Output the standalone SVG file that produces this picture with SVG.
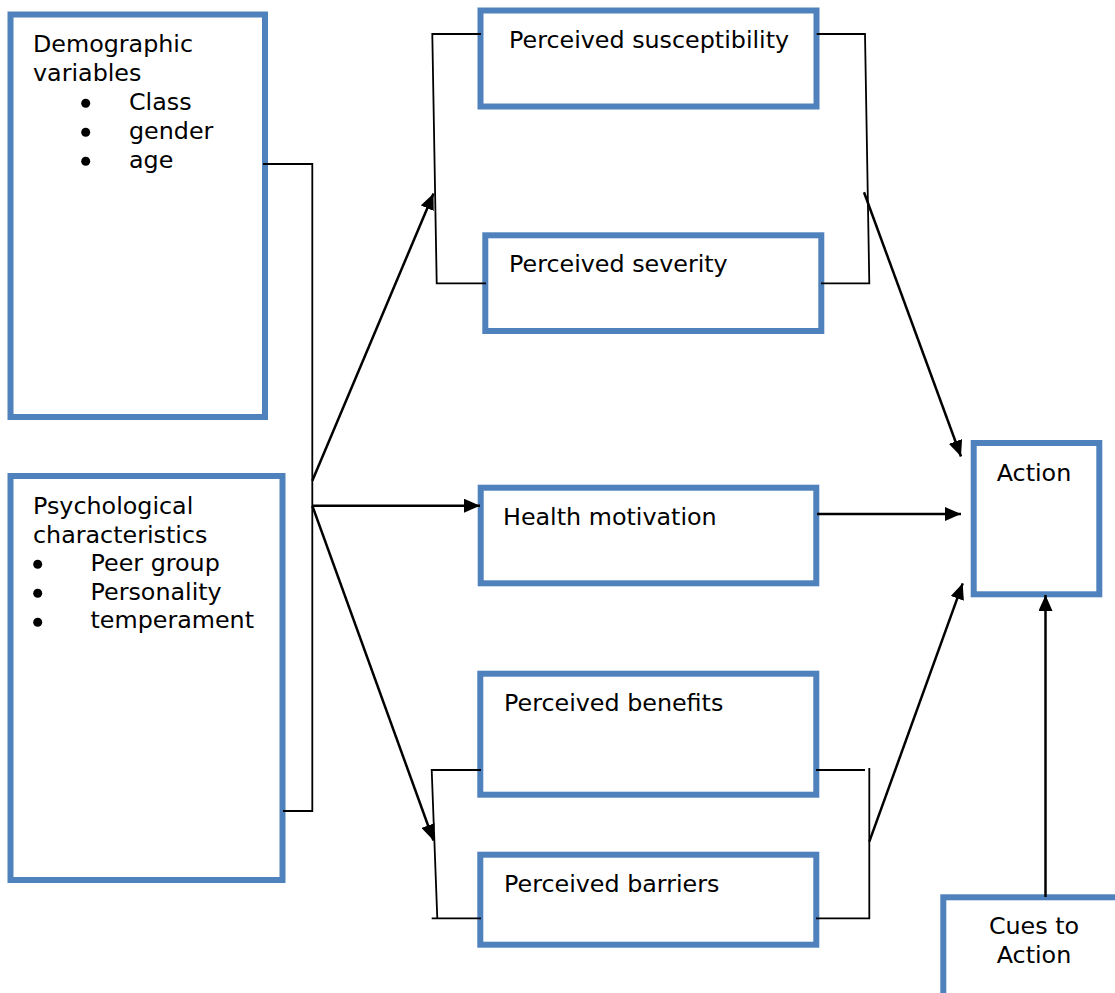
<svg xmlns="http://www.w3.org/2000/svg" width="1115" height="993" viewBox="0 0 1115 993">
  <style>
    .box { fill: #ffffff; stroke: #4F81BD; stroke-width: 6; }
    .lbl { font-family: "DejaVu Sans", Verdana, sans-serif; font-size: 23.8px; fill: #000000; }
    .dot { fill: #000000; }
    .bracket { fill: none; stroke: #000000; stroke-width: 1.8; }
    .arrow { fill: none; stroke: #000000; stroke-width: 2.5; marker-end: url(#head); }
  </style>
  <defs>
    <marker id="head" markerUnits="userSpaceOnUse" markerWidth="17" markerHeight="14" refX="16" refY="7" orient="auto">
      <path d="M0,0 L16,7 L0,14 z" fill="#000000"/>
    </marker>
  </defs>
  <rect width="1115" height="993" fill="#ffffff"/>

  <g id="demographic">
    <rect class="box" x="10.5" y="14.5" width="254.5" height="402.5"/>
    <text class="lbl" x="33" y="52">Demographic</text>
    <text class="lbl" x="33" y="81">variables</text>
    <circle class="dot" cx="85.7" cy="103.3" r="4.5"/>
    <text class="lbl" x="129" y="110">Class</text>
    <circle class="dot" cx="85.7" cy="132.3" r="4.5"/>
    <text class="lbl" x="129" y="139">gender</text>
    <circle class="dot" cx="85.7" cy="161.3" r="4.5"/>
    <text class="lbl" x="129" y="168">age</text>
  </g>

  <g id="psychological">
    <rect class="box" x="10.5" y="476" width="272" height="404"/>
    <text class="lbl" x="33" y="514">Psychological</text>
    <text class="lbl" x="33" y="542.5">characteristics</text>
    <circle class="dot" cx="37.7" cy="564.3" r="4.5"/>
    <text class="lbl" x="90.5" y="571">Peer group</text>
    <circle class="dot" cx="37.7" cy="593.3" r="4.5"/>
    <text class="lbl" x="90.5" y="599.5">Personality</text>
    <circle class="dot" cx="37.7" cy="622.3" r="4.5"/>
    <text class="lbl" x="90.5" y="628">temperament</text>
  </g>

  <g id="susceptibility">
    <rect class="box" x="480.5" y="10.5" width="336" height="96"/>
    <text class="lbl" x="509" y="48">Perceived susceptibility</text>
  </g>

  <g id="severity">
    <rect class="box" x="485.3" y="235.3" width="336" height="95.7"/>
    <text class="lbl" x="509" y="271.5">Perceived severity</text>
  </g>

  <g id="motivation">
    <rect class="box" x="480.7" y="487.7" width="335.6" height="95.6"/>
    <text class="lbl" x="503" y="525">Health motivation</text>
  </g>

  <g id="benefits">
    <rect class="box" x="480.3" y="673.7" width="336" height="121"/>
    <text class="lbl" x="504" y="711">Perceived benefits</text>
  </g>

  <g id="barriers">
    <rect class="box" x="480.3" y="854.7" width="336" height="90"/>
    <text class="lbl" x="504" y="891.5">Perceived barriers</text>
  </g>

  <g id="action">
    <rect class="box" x="973.7" y="443" width="125.6" height="151.3"/>
    <text class="lbl" x="996.7" y="480.5">Action</text>
  </g>

  <g id="cues">
    <rect class="box" x="943.3" y="897.3" width="190" height="120"/>
    <text class="lbl" x="1034" y="934" text-anchor="middle">Cues to</text>
    <text class="lbl" x="1034" y="963" text-anchor="middle">Action</text>
  </g>

  <g id="connectors">
    <!-- left trunk joining the two background boxes -->
    <polyline class="bracket" points="263,164 312.3,164 312.3,811 283,811"/>
    <!-- brackets around the threat pair -->
    <polyline class="bracket" points="481,34 432.3,34 436.7,283.3 486,283.3"/>
    <polyline class="bracket" points="816.7,34 865,34 869.3,283.3 821,283.3"/>
    <!-- brackets around the benefit/barrier pair -->
    <polyline class="bracket" points="481,770 431.7,770 437.3,918.3"/>
    <line class="bracket" x1="431.7" y1="918.3" x2="481" y2="918.3"/>
    <line class="bracket" x1="816" y1="770" x2="865" y2="770"/>
    <polyline class="bracket" points="869.3,768 869.3,918.3 816,918.3"/>
    <!-- arrows -->
    <line class="arrow" x1="312.3" y1="480.7" x2="433.5" y2="193.5"/>
    <line class="arrow" x1="312.3" y1="505.7" x2="480" y2="505.7"/>
    <line class="arrow" x1="312.3" y1="505.7" x2="433.5" y2="840.5"/>
    <line class="arrow" x1="864" y1="192.3" x2="961" y2="456.5"/>
    <line class="arrow" x1="817" y1="514" x2="961" y2="514"/>
    <line class="arrow" x1="869.3" y1="841.7" x2="962.7" y2="583.3"/>
    <line class="arrow" x1="1045.5" y1="897" x2="1045.5" y2="595"/>
  </g>
</svg>
